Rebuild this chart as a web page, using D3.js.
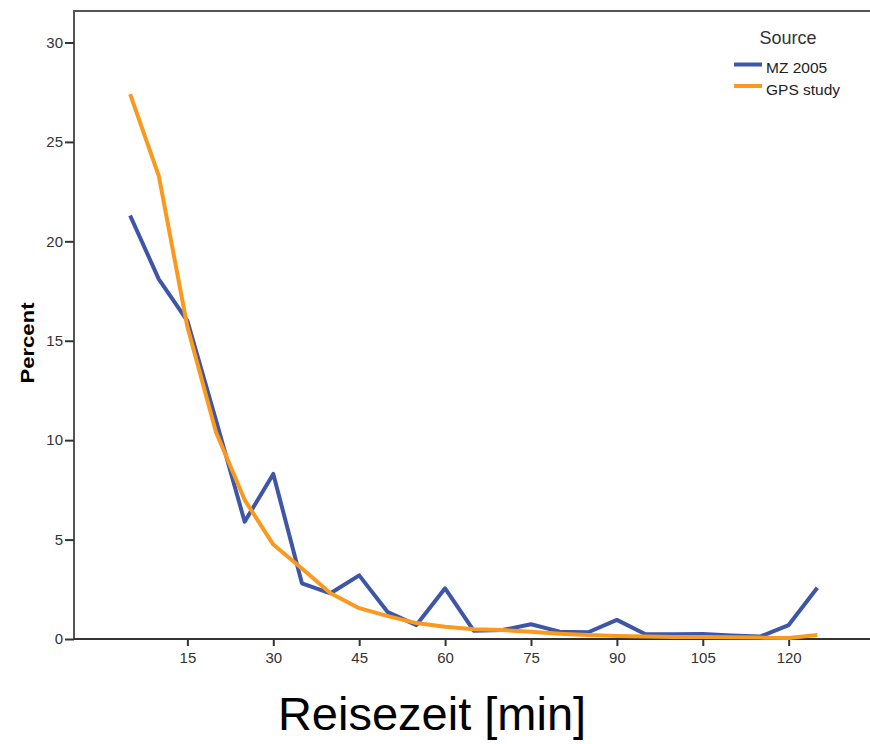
<!DOCTYPE html>
<html>
<head>
<meta charset="utf-8">
<script src="https://cdn.jsdelivr.net/npm/d3@7"></script>
<style>
  body { margin: 0; background: #fff; }
  svg { display: block; font-family: "Liberation Sans", Arial, sans-serif; }
</style>
</head>
<body>
<svg id="chart" width="870" height="744"></svg>
<script>
// travel time bins (minutes)
const minutes = [5, 10, 15, 20, 25, 30, 35, 40, 45, 50, 55, 60, 65, 70, 75, 80, 85, 90, 95, 100, 105, 110, 115, 120, 125]
const mz2005 = [21.3, 18.1, 16.0, 11.0, 5.9, 8.3, 2.8, 2.3, 3.2, 1.35, 0.7, 2.55, 0.42, 0.45, 0.74, 0.37, 0.34, 0.96, 0.24, 0.24, 0.25, 0.17, 0.12, 0.7, 2.58]
const gpsStudy = [27.4, 23.3, 15.7, 10.4, 7.0, 4.75, 3.55, 2.3, 1.55, 1.15, 0.8, 0.62, 0.49, 0.45, 0.36, 0.27, 0.2, 0.15, 0.12, 0.1, 0.1, 0.09, 0.07, 0.05, 0.2]
const xTicks = [15, 30, 45, 60, 75, 90, 105, 120]
const yTicks = [0, 5, 10, 15, 20, 25, 30]

const series = [
  { name: 'MZ 2005', values: mz2005, color: '#3d56a8' },
  { name: 'GPS study', values: gpsStudy, color: '#f99a1e' }
]

const svg = d3.select('#chart')
const plotLeft = 74, plotRight = 870, plotTop = 11, plotBottom = 639

const x = d3.scaleLinear().domain([-4.8, 134.2]).range([plotLeft, plotRight])
const y = d3.scaleLinear().domain([0, 30]).range([plotBottom, 42.5])

// frame: top and left
svg.append('path')
  .attr('d', `M${plotLeft},${plotBottom}V${plotTop}H${plotRight}`)
  .attr('fill', 'none')
  .attr('stroke', '#555')
  .attr('stroke-width', 2)

const yAxis = svg.append('g')
  .attr('transform', `translate(${plotLeft},0)`)
  .call(d3.axisLeft(y).tickValues(yTicks).tickSize(9).tickPadding(2))
yAxis.select('.domain').remove()

const xAxis = svg.append('g')
  .attr('transform', `translate(0,${plotBottom})`)
  .call(d3.axisBottom(x).tickValues(xTicks).tickSize(7).tickPadding(6))
xAxis.select('.domain').remove()

svg.append('line')
  .attr('x1', plotLeft).attr('x2', plotRight)
  .attr('y1', plotBottom).attr('y2', plotBottom)
  .attr('stroke', '#333').attr('stroke-width', 2)

svg.selectAll('.tick line').attr('stroke', '#333').attr('stroke-width', 2)
svg.selectAll('.tick text')
  .attr('fill', '#333')
  .style('font-size', '15px')
  .style('font-family', '"Liberation Sans", Arial, sans-serif')

const line = d3.line()
  .x((d, i) => x(minutes[i]))
  .y(d => y(d))

svg.selectAll('path.series')
  .data(series)
  .enter().append('path')
  .attr('class', 'series')
  .attr('d', d => line(d.values))
  .attr('fill', 'none')
  .attr('stroke', d => d.color)
  .attr('stroke-width', 4)
  .attr('stroke-linejoin', 'round')

// legend
const legend = svg.append('g')
legend.append('text')
  .attr('x', 788).attr('y', 43.5)
  .attr('text-anchor', 'middle')
  .attr('fill', '#333')
  .style('font-size', '18px')
  .text('Source')

const item = legend.selectAll('g.item')
  .data(series)
  .enter().append('g')
  .attr('class', 'item')
  .attr('transform', (d, i) => `translate(734,${64.5 + i * 21.5})`)
item.append('line')
  .attr('x1', 0).attr('x2', 28)
  .attr('stroke', d => d.color)
  .attr('stroke-width', 4)
item.append('text')
  .attr('x', 32).attr('y', 8.5)
  .attr('fill', '#222')
  .style('font-size', '15.5px')
  .text(d => d.name)

// axis titles
svg.append('text')
  .attr('transform', 'translate(34,343) rotate(-90)')
  .attr('text-anchor', 'middle')
  .attr('textLength', 81)
  .attr('lengthAdjust', 'spacingAndGlyphs')
  .style('font-size', '18px')
  .style('font-weight', 'bold')
  .text('Percent')

svg.append('text')
  .attr('x', 432).attr('y', 730)
  .attr('text-anchor', 'middle')
  .style('font-size', '47px')
  .text('Reisezeit [min]')
</script>
</body>
</html>
